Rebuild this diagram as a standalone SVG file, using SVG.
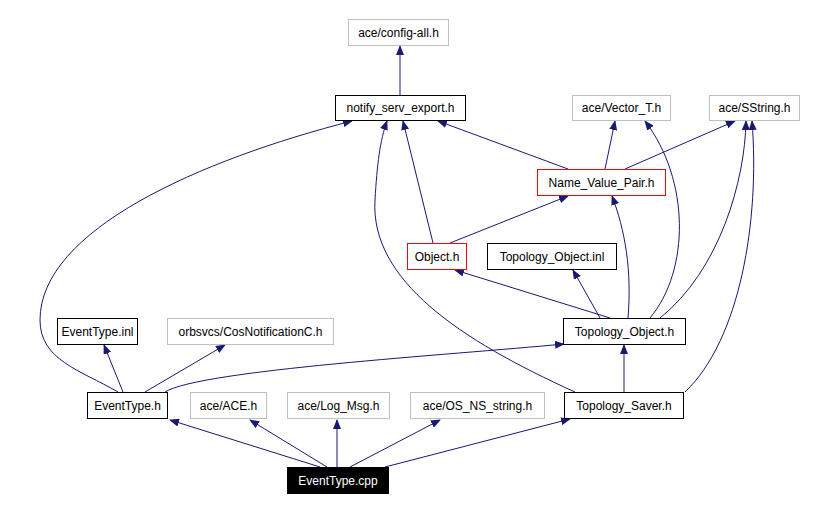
<svg xmlns="http://www.w3.org/2000/svg" width="824" height="510" viewBox="0 0 824 510">
<style>
.n rect{fill:#fff;stroke-width:1}
.g rect{stroke:#bfbfbf}
.b rect{stroke:#000}
.r rect{stroke:#f00}
text{font-family:"Liberation Sans",Arial,sans-serif;font-size:12px;text-anchor:middle;fill:#000}
#edges path{fill:none;stroke:#191970;stroke-width:1;marker-end:url(#a)}
</style>
<defs><marker id="a" markerWidth="10" markerHeight="8" refX="9" refY="4" orient="auto" markerUnits="userSpaceOnUse"><path d="M0,0 L10,4 L0,8 z" fill="#191970"/></marker></defs>
<rect width="824" height="510" fill="#fff"/>
<g id="edges">
<path d="M400,95 L400,46"/>
<path d="M320,467 L170,420"/>
<path d="M327,467 L250,420"/>
<path d="M337,467 L337,420"/>
<path d="M350,467 L440,420"/>
<path d="M385,467 L570,419"/>
<path d="M123,392 L104,345"/>
<path d="M145,392 L225,345"/>
<path d="M165,392 C200,370 450,355 564,344"/>
<path d="M118,392 C80,370 40,360 40,320 C40,230 200,160 352,121"/>
<path d="M624,392 L624,345"/>
<path d="M575,392 C460,340 370,280 375,200 C377,165 380,140 387,121"/>
<path d="M685,392 C740,340 760,220 752,121"/>
<path d="M610,318 L455,270"/>
<path d="M600,318 L573,270"/>
<path d="M628,318 C632,270 625,230 612,196"/>
<path d="M650,318 C690,270 690,180 645,121"/>
<path d="M660,318 C720,270 745,180 746,121"/>
<path d="M433,243 L403,121"/>
<path d="M450,243 L568,196"/>
<path d="M568,169 L438,121"/>
<path d="M605,169 L615,121"/>
<path d="M625,169 L735,121"/>
</g>
<g id="config" class="n g"><rect x="348.5" y="19.5" width="100" height="26"/><text x="398.5" y="37">ace/config-all.h</text></g>
<g id="notify" class="n b"><rect x="335.5" y="95.5" width="130" height="25"/><text x="400.5" y="112">notify_serv_export.h</text></g>
<g id="vector" class="n g"><rect x="572.5" y="95.5" width="98" height="25"/><text x="621.5" y="112">ace/Vector_T.h</text></g>
<g id="sstring" class="n g"><rect x="709.5" y="95.5" width="90" height="25"/><text x="754.5" y="112">ace/SString.h</text></g>
<g id="nvp"><rect x="537.5" y="169.5" width="128" height="26" fill="#ffffff" stroke="#ff0000" stroke-width="1"/><text x="601.5" y="187">Name_Value_Pair.h</text></g>
<g id="object" class="n r"><rect x="407.5" y="243.5" width="59" height="26"/><text x="437" y="261">Object.h</text></g>
<g id="toinl" class="n b"><rect x="487.5" y="243.5" width="129" height="26"/><text x="552" y="261">Topology_Object.inl</text></g>
<g id="etinl" class="n b"><rect x="57.5" y="318.5" width="80" height="26"/><text x="97.5" y="336">EventType.inl</text></g>
<g id="cosnot" class="n g"><rect x="167.5" y="318.5" width="166" height="26"/><text x="250.5" y="336">orbsvcs/CosNotificationC.h</text></g>
<g id="toh" class="n b"><rect x="563.5" y="318.5" width="122" height="26"/><text x="624.5" y="336">Topology_Object.h</text></g>
<g id="eth" class="n b"><rect x="87.5" y="392.5" width="80" height="26"/><text x="127.5" y="410">EventType.h</text></g>
<g id="ace" class="n g"><rect x="190.5" y="392.5" width="76" height="26"/><text x="228.5" y="410">ace/ACE.h</text></g>
<g id="log" class="n g"><rect x="287.5" y="392.5" width="102" height="26"/><text x="338.5" y="410">ace/Log_Msg.h</text></g>
<g id="osns" class="n g"><rect x="410.5" y="392.5" width="134" height="26"/><text x="477.5" y="410">ace/OS_NS_string.h</text></g>
<g id="tsh" class="n b"><rect x="564.5" y="392.5" width="119" height="26"/><text x="624" y="410">Topology_Saver.h</text></g>
<g id="cpp"><rect x="287.5" y="467.5" width="101" height="26" fill="#000" stroke="#000"/><text x="338" y="485" style="fill:#fff">EventType.cpp</text></g>
</svg>
